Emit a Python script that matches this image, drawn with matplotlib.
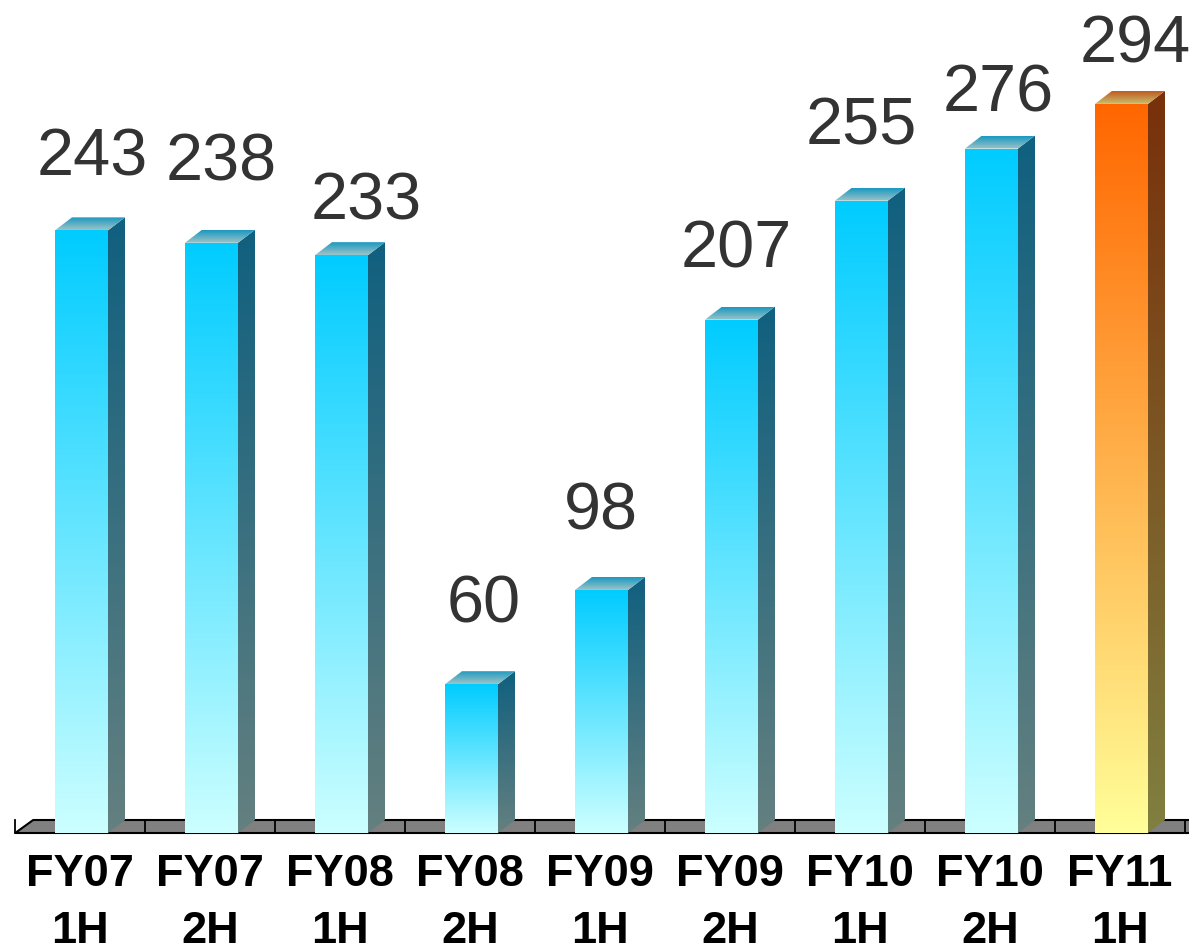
import numpy as np
import matplotlib
matplotlib.use('Agg')
import matplotlib.pyplot as plt
from matplotlib.patches import Polygon
from matplotlib.colors import LinearSegmentedColormap

plt.rcParams['font.family'] = ['Liberation Sans', 'DejaVu Sans']

# data
periods = ['FY07', 'FY07', 'FY08', 'FY08', 'FY09', 'FY09', 'FY10', 'FY10', 'FY11']
halves = ['1H', '2H', '1H', '2H', '1H', '2H', '1H', '2H', '1H']
values = [243, 238, 233, 60, 98, 207, 255, 276, 294]
highlight = 8  # latest period drawn in orange

# hand nudges for the value labels, in pixels (x shift, lift above bar top)
label_dx = [11, 10, 25, 12, -1, 5, 0, 7, 14]
label_lift = [55, 62, 36, 62, 60, 52, 56, 37, 41]

# colours: (front top, front bottom, side top, side bottom, lid back, lid front)
blue = ('#00ccff', '#ccffff', '#10607f', '#648080', '#1a98c0', '#9cc4c8')
orange = ('#ff6600', '#ffff99', '#78300a', '#808040', '#c05a1e', '#c8be70')

# scale: 130 px per category, 2.48 px per unit
PX_X = 130.0
PX_Y = 2.48
W = 53 / PX_X      # front face width
DX = 17 / PX_X     # depth offset, x
DY = 13 / PX_Y     # depth offset, y


def grad_fill(ax, pts, c_top, c_bot, x0, x1, y0, y1, z):
    clip = Polygon(pts, closed=True, facecolor='none', edgecolor='none')
    ax.add_patch(clip)
    cmap = LinearSegmentedColormap.from_list('g', [c_bot, c_top])
    g = np.linspace(0, 1, 256).reshape(-1, 1)
    im = ax.imshow(g, cmap=cmap, extent=[x0, x1, y0, y1], origin='lower',
                   aspect='auto', interpolation='bilinear', zorder=z)
    im.set_clip_path(clip)


fig = plt.figure(figsize=(11.89, 9.44), dpi=100)
ax = fig.add_axes([0, 0, 1, 1])
ax.axis('off')

xmin, xmax = -81.5 / PX_X, (1189 - 81.5) / PX_X
ymin, ymax = -(944 - 833) / PX_Y, 833 / PX_Y

# floor
left = -0.51
floor = Polygon([(left, 0), (left + 18 / PX_X, DY), (xmax + 1, DY), (xmax + 1, 0)],
                closed=True, facecolor='#808080', edgecolor='black', lw=1.5, zorder=1)
ax.add_patch(floor)
for k in range(len(values) + 1):
    xb = k - 0.51
    ax.plot([xb, xb], [0, DY], color='black', lw=1.3, zorder=1.5)

# bars
for i, v in enumerate(values):
    c = orange if i == highlight else blue
    xl, xr = i - W / 2, i + W / 2
    # front
    grad_fill(ax, [(xl, 0), (xr, 0), (xr, v), (xl, v)], c[0], c[1], xl, xr, 0, v, 2)
    # side
    grad_fill(ax, [(xr, 0), (xr + DX, DY), (xr + DX, v + DY), (xr, v)],
              c[2], c[3], xr, xr + DX, 0, v + DY, 2)
    # lid
    grad_fill(ax, [(xl, v), (xr, v), (xr + DX, v + DY), (xl + DX, v + DY)],
              c[4], c[5], xl, xr + DX, v, v + DY, 2)
    ax.annotate(str(v), xy=(i, v), xytext=(label_dx[i], label_lift[i]),
                textcoords='offset pixels', ha='center', va='baseline',
                fontsize=48, color='#333333', zorder=5)

# category labels
tr = ax.get_xaxis_transform()
for i in range(len(values)):
    ax.text(i - 0.012, 1 - 886 / 944, periods[i], transform=tr, ha='center',
            va='baseline', fontsize=32.5, fontweight='bold', color='black')
    ax.text(i - 0.012, 1 - 943 / 944, halves[i], transform=tr, ha='center',
            va='baseline', fontsize=32.5, fontweight='bold', color='black')

ax.set_xlim(xmin, xmax)
ax.set_ylim(ymin, ymax)

fig.savefig('out.png', dpi=100)
